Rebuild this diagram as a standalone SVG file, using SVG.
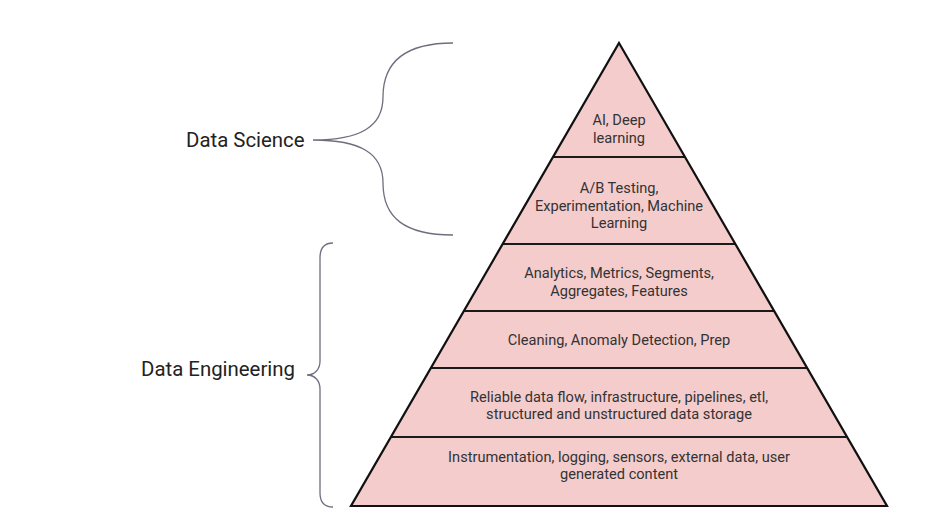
<svg xmlns="http://www.w3.org/2000/svg" width="940" height="518" viewBox="0 0 940 518">
  <style>
    .tier { fill: #f4cccc; stroke: none; }
    .lbl { font-family: Roboto, "Liberation Sans", sans-serif; font-size: 14.6px; fill: #333333; text-anchor: middle; }
    .side { font-family: Roboto, "Liberation Sans", sans-serif; font-size: 20.4px; fill: #222222; }
    .div { stroke: #1a1a1a; stroke-width: 2; fill: none; }
    .outline { stroke: #111111; stroke-width: 2.2; fill: none; stroke-linejoin: miter; }
    .brace { stroke: #6e6e7e; stroke-width: 1.3; fill: none; }
  </style>
  <rect width="940" height="518" fill="#ffffff"/>

  <g id="tier-ai">
    <polygon class="tier" points="619,43 553,157 685,157"/>
    <text class="lbl" x="619" y="125">AI, Deep</text>
    <text class="lbl" x="619" y="143">learning</text>
  </g>
  <g id="tier-ab">
    <polygon class="tier" points="553,157 685,157 735,244 503,244"/>
    <text class="lbl" x="619" y="193">A/B Testing,</text>
    <text class="lbl" x="619" y="211">Experimentation, Machine</text>
    <text class="lbl" x="619" y="228">Learning</text>
  </g>
  <g id="tier-analytics">
    <polygon class="tier" points="503,244 735,244 774,311 464,311"/>
    <text class="lbl" x="619" y="278">Analytics, Metrics, Segments,</text>
    <text class="lbl" x="619" y="296">Aggregates, Features</text>
  </g>
  <g id="tier-cleaning">
    <polygon class="tier" points="464,311 774,311 807,368 431,368"/>
    <text class="lbl" x="619" y="345">Cleaning, Anomaly Detection, Prep</text>
  </g>
  <g id="tier-dataflow">
    <polygon class="tier" points="431,368 807,368 847,437 391,437"/>
    <text class="lbl" x="619" y="402">Reliable data flow, infrastructure, pipelines, etl,</text>
    <text class="lbl" x="619" y="419">structured and unstructured data storage</text>
  </g>
  <g id="tier-instrumentation">
    <polygon class="tier" points="391,437 847,437 887,506 351,506"/>
    <text class="lbl" x="619" y="462">Instrumentation, logging, sensors, external data, user</text>
    <text class="lbl" x="619" y="479">generated content</text>
  </g>

  <g id="pyramid-lines">
    <line class="div" x1="553" y1="157" x2="685" y2="157"/>
    <line class="div" x1="503" y1="244" x2="735" y2="244"/>
    <line class="div" x1="464" y1="311" x2="774" y2="311"/>
    <line class="div" x1="431" y1="368" x2="807" y2="368"/>
    <line class="div" x1="391" y1="437" x2="847" y2="437"/>
    <polygon class="outline" points="619,43 887,506 351,506"/>
  </g>

  <g id="data-science">
    <text class="side" x="186" y="147">Data Science</text>
  </g>
  <g id="data-engineering">
    <text class="side" x="141" y="376">Data Engineering</text>
  </g>

  <g id="connectors">
    <path class="brace" d="M453,43 C405,43 383,62 383,97 C383,127 360,140 313,140 C360,140 383,153 383,183 C383,218 405,235 453,235"/>
    <path class="brace" d="M333,243 C324,243 320,248 320,258 L320,361 C320,369 315,375 307,375 C315,375 320,381 320,389 L320,493 C320,502 324,507 333,507"/>
  </g>
</svg>
